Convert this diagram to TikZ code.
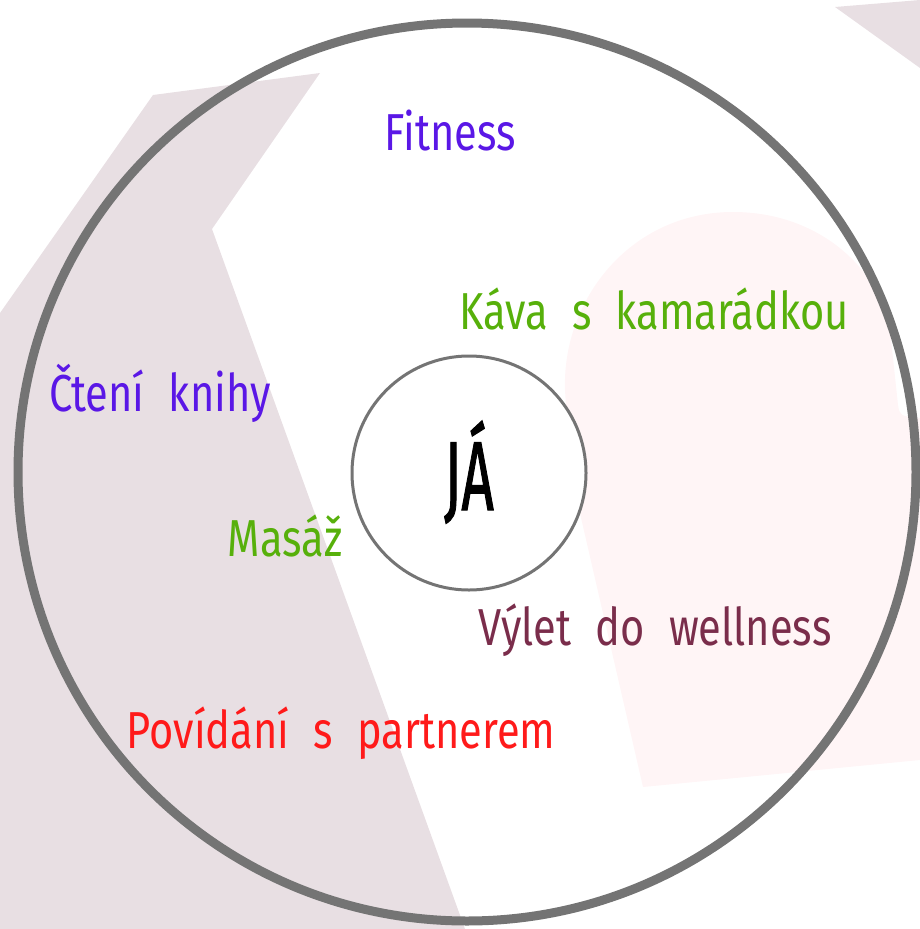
\documentclass[tikz,border=0pt]{standalone}
\usepackage{fontspec}
\setmainfont{Fira Sans}[WordSpace=2.2]
\definecolor{mauve}{HTML}{E8DFE3}
\definecolor{blush}{HTML}{FFF5F6}
\definecolor{ringgray}{HTML}{747474}
\definecolor{violetlbl}{HTML}{5A17E6}
\definecolor{greenlbl}{HTML}{57B00B}
\definecolor{winelbl}{HTML}{7A2D4B}
\definecolor{redlbl}{HTML}{FF1A1A}
\tikzset{
  ring/.style={circle, draw=ringgray, line width=9pt, minimum size=898pt, inner sep=0pt},
  me/.style={circle, draw=ringgray, line width=3pt, fill=white, minimum size=234pt, inner sep=0pt},
  lbl/.style={anchor=base, inner sep=0pt, xscale=0.8, font=\fontsize{52}{60}\selectfont}
}

\begin{document}
\begin{tikzpicture}[x=1pt, y=-1pt]
    \useasboundingbox (0,0) rectangle (920,929);
    \fill[mauve] (0,313) -- (153,95) -- (320,73) -- (212,229) -- (465,929) -- (0,929) -- cycle;
    \fill[mauve] (835,7) -- (920,0) -- (920,68) -- cycle;
    \fill[blush] (643,787) -- (570,470) -- (565,390) .. controls (562,300) and (630,212) .. (733,212)
        .. controls (820,212) and (880,270) .. (890,330) -- (898,405) .. controls (900,416) .. (920,418)
        -- (920,760) -- cycle;
    \node[ring] (ring) at (467,472) {};
    \node[me] (me) at (469,473) {};
    \node[lbl, xscale=0.72, font=\fontsize{98}{110}\selectfont\addfontfeature{FakeBold=1.5}] (ja) at (469,510) {JÁ};
    \node[lbl, violetlbl] (fitness) at (450,150) {Fitness};
    \node[lbl, greenlbl] (kava) at (654,329) {Káva s kamarádkou};
    \node[lbl, violetlbl] (cteni) at (160,411) {Čtení knihy};
    \node[lbl, greenlbl] (masaz) at (285,556) {Masáž};
    \node[lbl, winelbl] (vylet) at (655,645) {Výlet do wellness};
    \node[lbl, redlbl] (povidani) at (341,748) {Povídání s partnerem};
\end{tikzpicture}
\end{document}
